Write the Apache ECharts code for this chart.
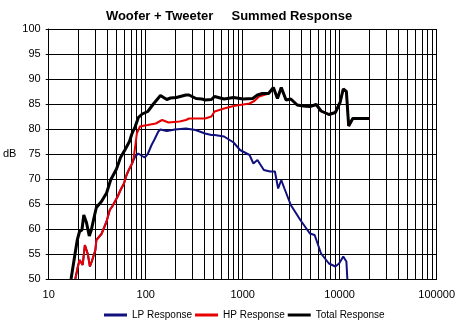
<!DOCTYPE html>
<html><head><meta charset="utf-8">
<script src="https://cdn.jsdelivr.net/npm/echarts@6/dist/echarts.min.js"></script>
<style>html,body{margin:0;padding:0;background:#fff}#c{width:458px;height:324px}</style>
</head><body><div id="c"></div>
<script>
const titleText = 'Woofer + Tweeter     Summed Response';
const seriesNames = ['LP Response', 'HP Response', 'Total Response'];
const xTickLabels = ['10', '100', '1000', '10000', '100000'];
const yTickLabels = ['50','55','60','65','70','75','80','85','90','95','100'];
const minorGridFreqs = [20,30,40,50,60,70,80,90,200,300,400,500,600,700,800,900,2000,3000,4000,5000,6000,7000,8000,9000,20000,30000,40000,50000,60000,70000,80000,90000];

const lpResponse = [[18.8,50],[20.0,52.5],[20.8,53.8],[22.4,52.8],[23.6,56.8],[25.3,55],[26.6,52.5],[27.8,53.5],[30.3,55.8],[31,57.8],[35,59],[39.5,61.5],[42.6,63.8],[45.2,64.5],[51.4,66.5],[55,67.8],[59.7,69.1],[63.5,70.8],[66.9,71.8],[72,73],[75,73.8],[78,74.5],[84,75.1],[90,74.7],[97.6,74.3],[105,75],[115,76.8],[122.4,77.8],[135,79.5],[142,79.9],[165,79.6],[200,79.9],[260,80.1],[326,79.8],[410,79.1],[476,78.8],[513,78.8],[643,78.5],[806,77.3],[939,75.8],[1177,74.8],[1289,73.1],[1420,73.8],[1653,71.8],[1919,71.5],[2149,71.5],[2321,68.1],[2500,69.8],[2695,68.1],[3135,64.8],[3932,61.8],[4931,59.1],[5521,58.8],[6425,55.1],[7753,53.1],[9023,52.5],[9876,53.1],[10887,54.5],[11731,53.5],[12000,50]];

const hpResponse = [[18.8,50],[20.0,52.5],[20.8,53.8],[22.4,52.8],[23.6,56.8],[25.3,55],[26.6,52.5],[27.8,53.5],[30.3,55.8],[31,57.8],[35,59],[39.5,61.5],[42.6,63.8],[45.2,64.5],[51.4,66.5],[55,67.8],[59.7,69.1],[63.5,70.8],[66.9,71.8],[72,73],[75,74.2],[78,76.5],[81,79.1],[87.2,80.5],[97.6,80.7],[105,80.8],[127,81.1],[147.7,81.8],[172,81.3],[224,81.5],[260,81.8],[280,82.1],[410,82.1],[476,82.5],[513,83.5],[643,84.1],[806,84.6],[1011,84.9],[1177,85.1],[1318,85.6],[1476,86.5],[1851,87.1],[2073,88.3],[2284,86.1],[2500,88.3],[2800,85.8],[3135,86],[3650,84.8],[4237,84.6],[4931,84.5],[5737,84.9],[6425,83.6],[7753,82.9],[9023,83.3],[10100,85.3],[10887,88.0],[11731,87.5],[12385,80.6],[13650,82.1],[20400,82.1]];

const totalResponse = [[17.0,50],[18.5,54.5],[19.7,57.8],[20.8,59.5],[22.0,59.8],[23.0,62.8],[24.5,61.3],[26.2,58.6],[27.5,59.8],[29.5,62.5],[31,64.3],[35,65.5],[39.5,67.2],[43.5,69.8],[50,72],[55,74.3],[61,75.8],[68,77.5],[72,79],[78,80.5],[84,82.3],[92,83],[105,83.5],[120,85],[142,86.7],[165,85.9],[180,86.2],[207,86.3],[260,86.8],[280,86.8],[330,86.1],[380,86.0],[410,85.8],[476,85.9],[513,86.5],[643,86],[806,86.3],[1011,86],[1268,86.1],[1420,86.8],[1591,87.1],[1851,87.1],[2073,88.3],[2284,86.1],[2500,88.3],[2800,85.8],[3135,86],[3650,84.8],[4237,84.6],[4931,84.5],[5737,84.9],[6425,83.6],[7753,82.9],[9023,83.3],[10100,85.3],[10887,88.0],[11731,87.5],[12385,80.6],[13650,82.1],[20400,82.1]];

const yMin = 50, yMax = 100;
const chart = echarts.init(document.getElementById('c'), null, {renderer: 'canvas'});
const font = 'Arial, "Liberation Sans", sans-serif';
const lineStyleGrid = {color: '#000', width: 1, type: 'solid'};
chart.setOption({
  animation: false,
  backgroundColor: '#fff',
  title: {
    text: titleText, left: 'center', top: 5,
    textStyle: {fontFamily: font, fontSize: 13, fontWeight: 'bold', color: '#000'}
  },
  legend: {
    data: seriesNames, left: 99, top: 305, itemWidth: 23, itemHeight: 3, itemGap: 3,
    icon: 'rect',
    textStyle: {fontFamily: font, fontSize: 10, color: '#000'}
  },
  grid: {left: 36, right: 15, top: 29, bottom: 45, containLabel: false},
  xAxis: {
    type: 'log', logBase: 10, min: 10, max: 100000,
    axisLine: {show: true, lineStyle: {color: '#000', width: 1}},
    axisTick: {show: false},
    axisLabel: {
      margin: 10, color: '#000', fontFamily: font, fontSize: 11,
      showMinLabel: true, showMaxLabel: true,
      formatter: v => xTickLabels[Math.round(Math.log10(v)) - 1]
    },
    splitLine: {show: true, lineStyle: lineStyleGrid}
  },
  yAxis: {
    type: 'value', min: yMin, max: yMax, interval: 5,
    name: 'dB', nameLocation: 'middle', nameRotate: 0, nameGap: 20,
    nameTextStyle: {fontFamily: font, fontSize: 11, color: '#000', align: 'right'},
    axisLine: {show: true, lineStyle: {color: '#000', width: 1}},
    axisTick: {show: true, length: 3, lineStyle: {color: '#000'}},
    axisLabel: {
      margin: 8, color: '#000', fontFamily: font, fontSize: 11,
      formatter: v => yTickLabels[Math.round((v - 50) / 5)]
    },
    splitLine: {show: true, lineStyle: lineStyleGrid}
  },
  series: [
    {
      name: 'minorGrid', type: 'custom', silent: true, z: 1,
      data: minorGridFreqs.map(f => [f]),
      encode: {x: 0},
      renderItem: (params, api) => {
        const f = api.value(0);
        const pTop = api.coord([f, yMax]);
        const pBot = api.coord([f, yMin]);
        const x = Math.round(pTop[0]) + 0.5;
        return {
          type: 'line',
          shape: {x1: x, y1: pTop[1], x2: x, y2: pBot[1]},
          style: {stroke: '#000', lineWidth: 1}
        };
      }
    },
    {
      name: seriesNames[0], type: 'line', data: lpResponse, showSymbol: false, symbol: 'none',
      color: '#10107f', lineStyle: {color: '#10107f', width: 2}, z: 3
    },
    {
      name: seriesNames[1], type: 'line', data: hpResponse, showSymbol: false, symbol: 'none',
      color: '#e80000', lineStyle: {color: '#e80000', width: 2}, z: 4
    },
    {
      name: seriesNames[2], type: 'line', data: totalResponse, showSymbol: false, symbol: 'none',
      color: '#000', lineStyle: {color: '#000', width: 3}, z: 5
    }
  ]
});
</script>
</body></html>
